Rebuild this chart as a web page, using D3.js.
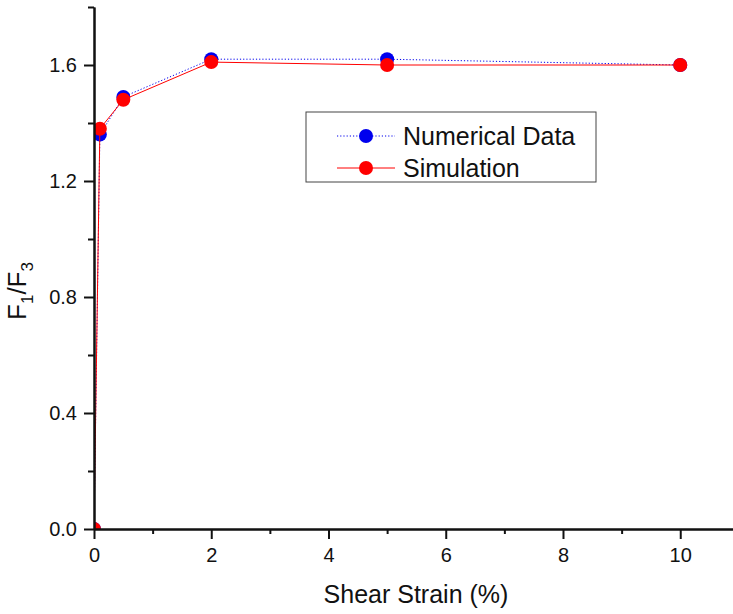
<!DOCTYPE html>
<html>
<head>
<meta charset="utf-8">
<script src="https://cdn.jsdelivr.net/npm/d3@7"></script>
<style>
  body { margin: 0; background: #fff; }
  text { font-family: "Liberation Sans", Arial, sans-serif; fill: #111; }
</style>
</head>
<body>
<div class="wrap-chart"></div>
<script>
var strain = [0, 0.1, 0.5, 2, 5, 10];
var numerical = [0, 1.36, 1.49, 1.62, 1.62, 1.60];
var simulation = [0, 1.38, 1.48, 1.61, 1.60, 1.60];
var xMajor = [0, 2, 4, 6, 8, 10];
var xMinor = [1, 3, 5, 7, 9];
var yMajor = [0, 0.4, 0.8, 1.2, 1.6];
var yMinor = [0.2, 0.6, 1.0, 1.4, 1.8];

var
  width = 733,
  height = 614,
  plotLeft = 94,
  plotTop = 7,
  plotBottom = 529,
  markerR = 7;

var x = d3.scaleLinear().domain([0, 10.9]).range([plotLeft, width]);
var y = d3.scaleLinear().domain([0, 1.8]).range([plotBottom, plotTop]);

var svg = d3.select(".wrap-chart")
  .append("svg")
  .attr("width", width)
  .attr("height", height);

svg.append("clipPath").attr("id", "plot-clip")
  .append("rect")
  .attr("x", plotLeft).attr("y", plotTop)
  .attr("width", width - plotLeft).attr("height", plotBottom - plotTop);

var series = [
  {name: "Numerical Data", values: numerical, color: "#0000ee", dash: "1.2,2"},
  {name: "Simulation", values: simulation, color: "#ff0000", dash: null}
];

var line = d3.line()
  .x(function (d) { return x(d[0]); })
  .y(function (d) { return y(d[1]); });

var plot = svg.append("g").attr("clip-path", "url(#plot-clip)");

series.forEach(function (s) {
  var pts = strain.map(function (v, i) { return [v, s.values[i]]; });
  plot.append("path")
    .datum(pts)
    .attr("fill", "none")
    .attr("stroke", s.color)
    .attr("stroke-width", 1)
    .attr("stroke-dasharray", s.dash)
    .attr("d", line);
  plot.selectAll(null)
    .data(pts).enter()
    .append("circle")
    .attr("cx", function (d) { return x(d[0]); })
    .attr("cy", function (d) { return y(d[1]); })
    .attr("r", markerR)
    .attr("fill", s.color);
});

// axes
function styleAxis(g) {
  g.select(".domain").attr("stroke", "#111").attr("stroke-width", 2);
  g.selectAll(".tick line").attr("stroke", "#111").attr("stroke-width", 2);
  g.selectAll(".tick text").style("font-size", "20px").attr("fill", "#111");
}

svg.append("g")
  .attr("transform", "translate(0," + plotBottom + ")")
  .call(d3.axisBottom(x).tickValues(xMinor).tickSize(5).tickSizeOuter(0).tickFormat(""))
  .call(styleAxis);
svg.append("g")
  .attr("transform", "translate(0," + plotBottom + ")")
  .call(d3.axisBottom(x).tickValues(xMajor).tickSize(10).tickSizeOuter(0).tickPadding(9).tickFormat(d3.format("d")))
  .call(styleAxis);

svg.append("g")
  .attr("transform", "translate(" + plotLeft + ",0)")
  .call(d3.axisLeft(y).tickValues(yMinor).tickSize(6).tickSizeOuter(0).tickFormat(""))
  .call(styleAxis);
svg.append("g")
  .attr("transform", "translate(" + plotLeft + ",0)")
  .call(d3.axisLeft(y).tickValues(yMajor).tickSize(10).tickSizeOuter(0).tickPadding(7).tickFormat(d3.format(".1f")))
  .call(styleAxis);

// axis titles
svg.append("text")
  .attr("x", (320 + 512) / 2)
  .attr("y", 603)
  .attr("text-anchor", "middle")
  .style("font-size", "25px")
  .text("Shear Strain (%)");

var yTitle = svg.append("text")
  .attr("transform", "translate(26,291) rotate(-90)")
  .attr("text-anchor", "middle")
  .style("font-size", "26px");
yTitle.append("tspan").text("F");
yTitle.append("tspan").attr("dy", 7).style("font-size", "17px").text("1");
yTitle.append("tspan").attr("dy", -7).text("/F");
yTitle.append("tspan").attr("dy", 7).style("font-size", "17px").text("3");

// legend
var legend = svg.append("g").attr("class", "legend");
legend.append("rect")
  .attr("x", 306).attr("y", 112)
  .attr("width", 290).attr("height", 70)
  .attr("fill", "#fff")
  .attr("stroke", "#444")
  .attr("stroke-width", 1);

series.forEach(function (s, i) {
  var ly = 136 + i * 32;
  legend.append("line")
    .attr("x1", 337).attr("x2", 395)
    .attr("y1", ly).attr("y2", ly)
    .attr("stroke", s.color)
    .attr("stroke-width", 1)
    .attr("stroke-dasharray", s.dash);
  legend.append("circle")
    .attr("cx", 366).attr("cy", ly)
    .attr("r", markerR)
    .attr("fill", s.color);
  legend.append("text")
    .attr("x", 403).attr("y", ly + 9)
    .style("font-size", "25px")
    .text(s.name);
});
</script>
</body>
</html>
